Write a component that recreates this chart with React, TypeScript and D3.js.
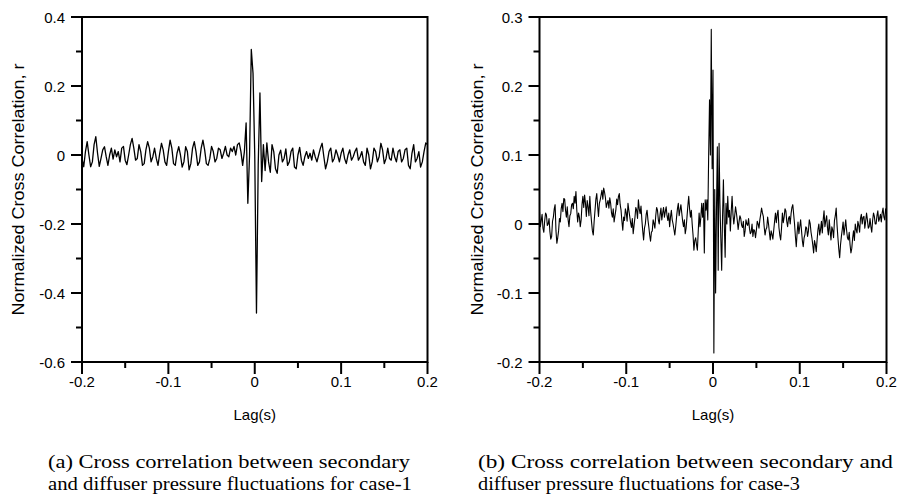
import React from "react";
import * as d3 from "d3";

const lagStart = -0.2;
const lagStepCase1 = 0.002;
const lagStepCase3 = 0.001;

const corrCase1 = [
  -0.01, -0.034, 0.01, 0.039, 0.0, -0.034, -0.02, 0.03, 0.053, 0.005,
  -0.033, -0.01, 0.015, 0.024, -0.005, -0.03, 0.0, 0.02, -0.012, 0.015,
  -0.005, 0.01, -0.02, 0.02, 0.025, -0.015, -0.028, 0.0, 0.03, 0.048,
  0.02, -0.015, -0.01, 0.03, 0.01, -0.03, -0.025, 0.015, 0.039, 0.02,
  -0.02, -0.005, 0.02, -0.01, -0.03, 0.005, 0.034, 0.015, -0.02, -0.03,
  0.01, 0.043, 0.02, -0.025, -0.03, 0.005, 0.024, 0.0, -0.035, -0.02,
  0.024, 0.01, -0.043, -0.025, 0.02, 0.039, 0.01, -0.03, -0.02, 0.02,
  0.043, 0.015, -0.025, -0.03, -0.01, 0.025, 0.01, -0.02, -0.01, 0.02,
  0.015, -0.01, 0.005, 0.025, 0.0, -0.005, 0.02, 0.01, 0.025, 0.0,
  0.03, 0.035, 0.01, -0.03, 0.01, 0.093, -0.14, 0.0, 0.306, 0.237,
  0.0, -0.458, -0.03, 0.18, -0.077, 0.03, -0.045, 0.035, -0.02, -0.05,
  0.03, 0.01, -0.04, -0.053, 0.0, 0.014, -0.02, -0.01, 0.018, -0.03,
  -0.02, 0.01, 0.02, -0.035, -0.04, 0.0, 0.022, -0.015, -0.03, -0.005,
  0.01, -0.01, 0.005, -0.015, 0.015, -0.005, -0.02, 0.0, 0.02, 0.034,
  -0.005, -0.04, -0.02, 0.01, 0.02, -0.02, -0.01, 0.015, 0.0, -0.02,
  0.005, 0.02, -0.01, -0.025, 0.0, 0.015, -0.015, -0.005, 0.01, 0.02,
  -0.015, -0.005, 0.01, -0.02, -0.03, 0.02, 0.0, -0.04, -0.02, 0.02,
  0.01, -0.02, -0.005, 0.034, 0.015, -0.025, -0.01, 0.02, -0.01, -0.015,
  0.02, -0.005, -0.02, 0.01, 0.015, -0.02, -0.01, 0.015, 0.02, -0.03,
  -0.04, 0.005, 0.03, -0.02, -0.01, 0.01, -0.035, -0.02, 0.01, 0.035,
  0.03,
];

const corrCase3 = [
  0.018, -0.004, 0.005, 0.014, -0.006, -0.012, 0.005, 0.016, 0.013, -0.002,
  0.0, 0.008, -0.011, -0.022, -0.018, 0.004, 0.01, 0.022, 0.028, -0.01,
  -0.028, -0.02, -0.01, 0.008, 0.003, 0.022, 0.03, 0.018, 0.037, 0.036,
  0.02, 0.01, 0.025, 0.006, -0.004, 0.012, 0.015, 0.028, 0.03, 0.022,
  0.04, 0.03, 0.047, 0.02, 0.003, 0.016, 0.01, -0.004, 0.006, 0.028,
  0.04, 0.024, 0.042, 0.03, 0.011, 0.034, 0.025, 0.012, 0.04, 0.018,
  0.003, -0.01, -0.016, 0.004, 0.02, 0.036, 0.044, 0.026, 0.011, 0.03,
  0.035, 0.042, 0.049, 0.036, 0.052, 0.046, 0.038, 0.024, 0.03, 0.034,
  0.023, 0.038, 0.03, 0.016, 0.01, 0.022, 0.003, 0.012, 0.02, 0.036,
  0.028, 0.04, 0.044, 0.028, 0.02, 0.004, -0.009, 0.01, 0.005, 0.022,
  0.016, 0.004, 0.03, 0.02, 0.011, 0.002, -0.005, 0.008, -0.014, -0.002,
  0.009, 0.024, 0.02, 0.008, 0.035, 0.022, 0.015, 0.026, 0.006, -0.01,
  -0.023, -0.006, 0.0, 0.014, 0.02, 0.006, -0.004, -0.016, -0.025, -0.012,
  -0.01, 0.006, 0.001, -0.006, 0.012, 0.024, 0.02, 0.006, 0.0, 0.014,
  0.023, 0.006, 0.016, 0.024, 0.01, 0.018, 0.025, 0.012, 0.005, 0.016,
  -0.004, 0.01, 0.02, 0.006, 0.0, -0.008, -0.016, -0.004, 0.01, 0.022,
  0.03, 0.012, 0.02, 0.028, 0.016, 0.004, -0.004, 0.006, -0.014, -0.006,
  0.01, 0.026, 0.04, 0.022, 0.01, 0.02, 0.0, -0.016, -0.038, -0.024,
  -0.02, -0.03, -0.038, -0.01, 0.016, -0.004, 0.01, 0.03,
  0.01, 0.03, -0.042, 0.035, 0.02, 0.035, 0.006, 0.1, 0.18, 0.1,
  0.282, 0.08, 0.223, -0.187, 0.05, -0.1, 0.02, 0.112, -0.067, 0.117,
  0.03, -0.02, -0.067, 0.01, 0.064, 0.0, -0.048, 0.03, 0.0, 0.04, 0.01,
  0.02,
  -0.01, 0.018, 0.04, 0.014, 0.0, 0.012, 0.025, 0.016, 0.005, -0.008,
  0.003, 0.012, 0.008, -0.002, -0.005, 0.004, -0.018, -0.01, 0.006, 0.0,
  -0.002, 0.008, -0.006, -0.014, -0.012, 0.0, -0.018, -0.008, -0.01, -0.02,
  -0.009, 0.004, 0.0, -0.006, 0.006, 0.014, 0.023, 0.016, 0.011, -0.004,
  -0.016, -0.008, -0.005, 0.01, 0.0, -0.012, -0.023, -0.01, -0.015, -0.022,
  -0.009, 0.004, 0.016, 0.002, 0.014, 0.02, -0.005, -0.016, -0.023, -0.006,
  0.016, 0.002, 0.01, 0.022, 0.019, 0.004, -0.004, 0.008, 0.011, 0.0,
  0.015, 0.024, 0.028, 0.014, 0.0, -0.018, -0.033, -0.012, 0.003, -0.014,
  -0.004, 0.006, -0.009, -0.024, -0.033, -0.02, -0.015, -0.004, -0.006, -0.018,
  -0.01, 0.006, 0.001, -0.012, -0.02, -0.03, -0.042, -0.024, -0.03, -0.04,
  -0.023, -0.008, 0.0, -0.016, -0.008, 0.004, -0.013, 0.006, 0.019, -0.004,
  0.005, 0.012, -0.006, -0.016, 0.006, -0.01, -0.023, -0.004, -0.009, -0.02,
  0.005, 0.012, 0.023, -0.002, -0.02, -0.036, -0.049, -0.03, -0.018, -0.008,
  0.003, -0.016, -0.005, 0.006, -0.009, -0.02, -0.023, -0.012, -0.03, -0.042,
  -0.035, -0.02, -0.01, -0.024, 0.0, -0.008, -0.013, 0.004, -0.002, -0.012,
  0.008, 0.014, 0.0, 0.01, 0.011, -0.006, 0.004, 0.016, 0.006, -0.006,
  -0.004, 0.008, -0.004, -0.012, 0.005, 0.016, 0.011, 0.0, 0.0, 0.012,
  0.019, 0.004, 0.008, 0.014, 0.003, 0.016, 0.023, 0.01, 0.006, 0.022,
  0.015,
];

const xMajorTicks = [-0.2, -0.1, 0, 0.1, 0.2];
const xMinorTicks = [-0.15, -0.05, 0.05, 0.15];
const yTicksCase1 = [0.4, 0.2, 0, -0.2, -0.4, -0.6];
const yMinorCase1 = [0.3, 0.1, -0.1, -0.3, -0.5];
const yTicksCase3 = [0.3, 0.2, 0.1, 0, -0.1, -0.2];
const yMinorCase3 = [0.25, 0.15, 0.05, -0.05, -0.15];
const xLabel = "Lag(s)";
const yLabel = "Normalized Cross Correlation, r";
const captionA = [
  "(a) Cross correlation between secondary",
  "and diffuser pressure fluctuations for case-1",
];
const captionB = [
  "(b) Cross correlation between secondary and",
  "diffuser pressure fluctuations for case-3",
];

const SANS = "'Liberation Sans', Arial, Helvetica, sans-serif";
const SERIF = "'Liberation Serif', 'Times New Roman', serif";

function fmt(v: number) {
  const r = Math.round(v * 10) / 10;
  return r === 0 ? "0" : String(r);
}

type PanelProps = {
  left: number;
  right: number;
  top: number;
  bottom: number;
  yDomain: [number, number];
  yTicks: number[];
  yMinor: number[];
  data: number[];
  step: number;
  yLabelX: number;
  caption: string[];
  captionX: number;
  captionLens: number[];
  lineWidth: number;
};

function Panel(p: PanelProps) {
  const x = d3.scaleLinear().domain([-0.2, 0.2]).range([p.left, p.right]);
  const y = d3.scaleLinear().domain(p.yDomain).range([p.bottom, p.top]);
  const line = d3
    .line<number>()
    .x((_, i) => x(lagStart + i * p.step))
    .y((d) => y(d));
  const cx = (p.left + p.right) / 2;
  const cy = (p.top + p.bottom) / 2;
  return (
    <g>
      <path d={line(p.data) || ""} fill="none" stroke="#000" strokeWidth={p.lineWidth} strokeLinejoin="round" />
      <rect x={p.left} y={p.top} width={p.right - p.left} height={p.bottom - p.top} fill="none" stroke="#000" strokeWidth={2} />
      {xMajorTicks.map((t) => (
        <g key={"xm" + t}>
          <line x1={x(t)} x2={x(t)} y1={p.bottom} y2={p.bottom + 12} stroke="#000" strokeWidth={2} />
          <text x={x(t)} y={p.bottom + 25} textAnchor="middle" fontFamily={SANS} fontSize={15} fill="#000">
            {fmt(t)}
          </text>
        </g>
      ))}
      {xMinorTicks.map((t) => (
        <line key={"xn" + t} x1={x(t)} x2={x(t)} y1={p.bottom} y2={p.bottom + 6} stroke="#000" strokeWidth={2} />
      ))}
      {p.yTicks.map((t) => (
        <g key={"ym" + t}>
          <line x1={p.left - 11} x2={p.left} y1={y(t)} y2={y(t)} stroke="#000" strokeWidth={2} />
          <text x={p.left - 17} y={y(t) + 5.5} textAnchor="end" fontFamily={SANS} fontSize={15} fill="#000">
            {fmt(t)}
          </text>
        </g>
      ))}
      {p.yMinor.map((t) => (
        <line key={"yn" + t} x1={p.left - 6} x2={p.left} y1={y(t)} y2={y(t)} stroke="#000" strokeWidth={2} />
      ))}
      <text x={cx} y={p.bottom + 58} textAnchor="middle" fontFamily={SANS} fontSize={15} fill="#000">
        {xLabel}
      </text>
      <text
        transform={`translate(${p.yLabelX},${cy}) rotate(-90)`}
        textAnchor="middle"
        fontFamily={SANS}
        fontSize={16.5}
        fill="#000"
        textLength={252}
        lengthAdjust="spacingAndGlyphs"
      >
        {yLabel}
      </text>
      {p.caption.map((c, i) => (
        <text
          key={c}
          x={p.captionX}
          y={468 + i * 22}
          fontFamily={SERIF}
          fontSize={19.5}
          fill="#000"
          textLength={p.captionLens[i]}
          lengthAdjust="spacingAndGlyphs"
        >
          {c}
        </text>
      ))}
    </g>
  );
}

export default function App() {
  return (
    <svg
      width={900}
      height={494}
      style={{ position: "absolute", left: 0, top: 0, background: "#fff" }}
    >
      <rect width={900} height={494} fill="#fff" />
      <Panel
        left={82}
        right={427.5}
        top={17}
        bottom={362}
        yDomain={[-0.6, 0.4]}
        yTicks={yTicksCase1}
        yMinor={yMinorCase1}
        data={corrCase1}
        step={lagStepCase1}
        yLabelX={23.5}
        caption={captionA}
        captionX={48}
        captionLens={[362, 364]}
        lineWidth={1.3}
      />
      <Panel
        left={539.5}
        right={886.5}
        top={17}
        bottom={362}
        yDomain={[-0.2, 0.3]}
        yTicks={yTicksCase3}
        yMinor={yMinorCase3}
        data={corrCase3}
        step={lagStepCase3}
        yLabelX={482.5}
        caption={captionB}
        captionX={478}
        captionLens={[415, 322]}
        lineWidth={1.1}
      />
    </svg>
  );
}
